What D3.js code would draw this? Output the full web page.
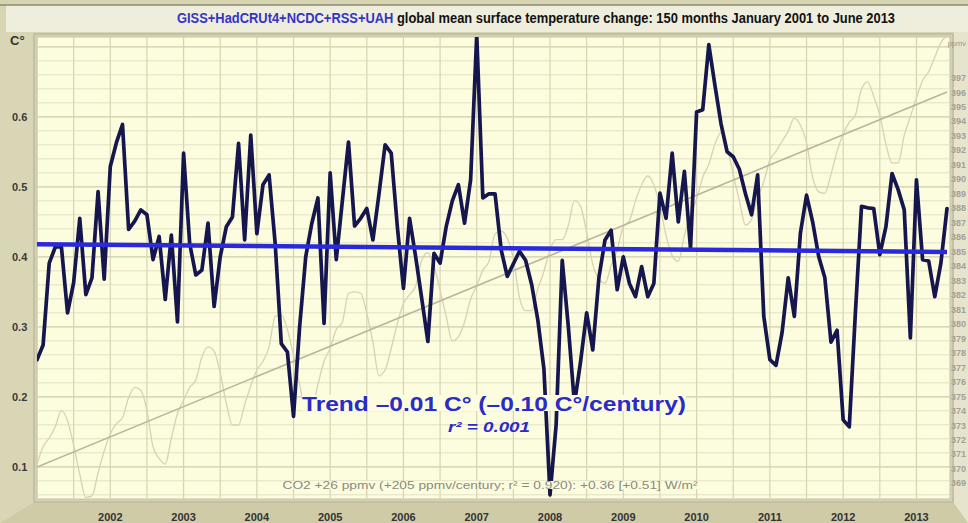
<!DOCTYPE html>
<html><head><meta charset="utf-8">
<script src="https://cdn.jsdelivr.net/npm/d3@7"></script>
<style>body{margin:0;background:#d6d3b1;overflow:hidden} svg{display:block}</style>
</head><body><svg id="c" width="968" height="523"></svg>
<script>
// ---------- data ----------
const years = [2002,2003,2004,2005,2006,2007,2008,2009,2010,2011,2012,2013];
const yTickLabels = [0.1,0.2,0.3,0.4,0.5,0.6];
const ppmTickLabels = [369,370,371,372,373,374,375,376,377,378,379,380,381,382,383,384,385,386,387,388,389,390,391,392,393,394,395,396,397];
// monthly mean of GISS+HadCRUt4+NCDC+RSS+UAH, Jan 2001 .. Jun 2013 (C°)
const tempAnomaly = [
 0.253,0.274,0.391,0.414,0.414,0.320,0.363,0.455,0.346,0.370,0.493,0.368,
 0.529,0.563,0.589,0.439,0.451,0.467,0.460,0.396,0.429,0.339,0.431,0.307,
 0.548,0.419,0.374,0.381,0.448,0.329,0.400,0.443,0.457,0.562,0.424,0.574,
 0.433,0.503,0.517,0.419,0.276,0.264,0.172,0.300,0.400,0.448,0.484,0.305,
 0.520,0.396,0.480,0.564,0.444,0.455,0.469,0.424,0.490,0.560,0.548,0.443,
 0.355,0.455,0.400,0.340,0.279,0.405,0.391,0.443,0.480,0.503,0.448,0.510,
 0.717,0.484,0.490,0.490,0.410,0.372,0.390,0.408,0.395,0.360,0.310,0.240,
 0.060,0.160,0.395,0.300,0.190,0.250,0.320,0.267,0.370,0.424,0.438,0.353,
 0.400,0.362,0.343,0.386,0.343,0.362,0.491,0.455,0.548,0.450,0.522,0.412,
 0.607,0.610,0.703,0.645,0.590,0.550,0.543,0.525,0.490,0.460,0.517,0.315,
 0.253,0.245,0.292,0.370,0.315,0.434,0.488,0.450,0.400,0.370,0.278,0.295,
 0.167,0.157,0.320,0.472,0.470,0.469,0.403,0.443,0.519,0.496,0.467,0.284,
 0.510,0.396,0.394,0.343,0.391,0.469];
// monthly CO2 (ppmv), Jan 2001 .. Jun 2013
const co2Monthly = [
 370.3,371.5,372.1,372.9,374.0,373.3,371.6,369.6,368.0,368.1,369.7,371.2,
 372.4,373.1,373.5,374.9,375.6,375.4,374.0,371.5,370.7,370.3,372.1,373.8,
 374.7,375.6,376.1,377.7,378.4,378.1,376.6,374.5,373.0,373.0,374.4,375.7,
 376.8,377.4,378.4,380.5,380.6,379.6,377.8,375.8,374.1,374.2,375.8,377.4,
 378.3,379.6,380.1,382.1,382.2,382.1,380.7,378.7,376.4,376.8,378.3,380.0,
 381.4,382.0,382.6,384.4,384.9,384.0,382.3,380.5,378.8,379.1,380.1,381.7,
 382.6,383.7,384.3,386.2,386.4,385.9,384.5,381.8,380.9,380.9,382.4,383.6,
 385.1,385.8,385.8,386.8,388.5,388.1,386.3,384.1,383.1,382.8,384.0,385.1,
 386.7,387.1,388.5,389.6,390.2,389.6,388.1,386.1,384.7,384.3,386.1,387.5,
 388.6,390.1,391.0,392.4,393.2,392.2,390.3,388.5,386.8,387.2,388.7,389.8,
 391.3,391.9,392.6,393.3,394.2,393.7,392.5,390.1,389.1,389.0,390.3,391.9,
 393.1,393.9,394.4,396.2,396.7,395.7,394.4,392.4,391.1,391.1,393.0,394.3,
 395.6,396.8,397.4,398.4,399.4,399.9];
const tempTrend = [0.418, 0.407];   // start, end (C°)
const co2Trend  = [370.1, 396.0];   // start, end (ppmv)

// ---------- layout ----------
const svg = d3.select('#c');
const L = 37, R = 950, T = 37, B = 499;
const FONT = 'Liberation Sans, Arial, sans-serif';
const x = d3.scaleLinear().domain([0, 149]).range([37, 947]);
const y = d3.scaleLinear().domain([0.054, 0.714]).range([B, T]);
const yc = d3.scaleLinear().domain([co2Trend[0], co2Trend[1]]).range([467, 92]);
const monthOfYear = yr => (yr - 2001) * 12;

// page background pieces
svg.append('rect').attr('x',0).attr('y',0).attr('width',968).attr('height',523).attr('fill','#d6d3b1');
svg.append('path').attr('d',`M0,6 L${L-4},${T-4} L${L-4},${B+4} L0,523 Z`).attr('fill','#d9d6b6');
svg.append('path').attr('d',`M0,523 L${L-4},${B+4} L${R+4},${B+4} L968,523 Z`).attr('fill','#cfcba7');
svg.append('path').attr('d',`M968,6 L${R+4},${T-4} L${R+4},${B+4} L968,523 Z`).attr('fill','#e6e4cc');
svg.append('rect').attr('x',6).attr('y',5).attr('width',962).attr('height',27).attr('fill','#efeedc');
svg.append('line').attr('x1',0).attr('x2',968).attr('y1',5).attr('y2',5).attr('stroke','#8d8a78').attr('stroke-width',1.5);

// plot area
svg.append('rect').attr('x',L-3).attr('y',T-3).attr('width',R-L+6).attr('height',B-T+6)
  .attr('fill','none').attr('stroke','#bdbba5').attr('stroke-width',1.5);
svg.append('rect').attr('x',L).attr('y',T).attr('width',R-L).attr('height',B-T)
  .attr('fill','#fcfcde').attr('stroke','#c6c4ac').attr('stroke-width',1);

svg.append('clipPath').attr('id','plot').append('rect').attr('x',L).attr('y',T).attr('width',R-L).attr('height',B-T);
const g = svg.append('g').attr('clip-path','url(#plot)');

// grid
const isMajor = d => Math.abs(d*10 - Math.round(d*10)) < 1e-6;
const hGrid = d3.range(0.06, 0.715, 0.02);
g.selectAll('line.h').data(hGrid).join('line')
  .attr('x1',L).attr('x2',R).attr('y1',d=>y(d)).attr('y2',d=>y(d))
  .attr('stroke', d => isMajor(d) ? '#cfcca8' : '#e4e2c4')
  .attr('stroke-width', d => isMajor(d) ? 1.3 : 1);
const vGrid = d3.range(0, 150, 6);
g.selectAll('line.v').data(vGrid).join('line')
  .attr('y1',T).attr('y2',B).attr('x1',d=>x(d)).attr('x2',d=>x(d))
  .attr('stroke','#d6d4b2').attr('stroke-width',1.2);

// CO2 curves
g.append('path').datum(co2Monthly)
  .attr('d', d3.line().curve(d3.curveMonotoneX).x((d,i)=>x(i)).y(d=>yc(d)))
  .attr('fill','none').attr('stroke','#d6d3b2').attr('stroke-width',1.3);
g.append('line').attr('x1',x(0)).attr('x2',x(149)).attr('y1',yc(co2Trend[0])).attr('y2',yc(co2Trend[1]))
  .attr('stroke','#b9b59c').attr('stroke-width',1.6);

// temperature
g.append('path').datum(tempAnomaly)
  .attr('d', d3.line().x((d,i)=>x(i)).y(d=>y(d)))
  .attr('fill','none').attr('stroke','#16164e').attr('stroke-width',3.7)
  .attr('stroke-linejoin','round').attr('stroke-linecap','round');
g.append('line').attr('x1',x(0)).attr('x2',x(149)).attr('y1',y(tempTrend[0])).attr('y2',y(tempTrend[1]))
  .attr('stroke','#2a2adc').attr('stroke-width',4.5);

// labels inside plot (with background boxes)
function boxedText(txt, cx, by, size, opts) {
  const t = svg.append('text').attr('x',cx).attr('y',by).attr('text-anchor','middle')
    .attr('font-family',FONT).attr('font-size',size)
    .attr('fill',opts.fill).attr('font-weight',opts.weight||'normal').attr('font-style',opts.style||'normal')
    .text(txt);
  if (opts.len) t.attr('textLength',opts.len).attr('lengthAdjust','spacingAndGlyphs');
  if (opts.bg) {
    const bb = t.node().getBBox();
    svg.insert('rect', () => t.node()).attr('x',bb.x).attr('y',bb.y+opts.bgPadTop).attr('width',bb.width)
      .attr('height',bb.height-opts.bgPadTop-opts.bgPadBot).attr('fill','#fcfcde');
  }
  return t;
}
boxedText('Trend \u20130.01 C\u00b0 (\u20130.10 C\u00b0/century)', 494, 411, 21,
  {fill:'#2b2bc8', weight:'bold', len:384, bg:true, bgPadTop:3, bgPadBot:4});
boxedText('r\u00b2 = 0.001', 489, 432, 14, {fill:'#2b2bc8', weight:'bold', style:'italic', len:82});
boxedText('CO2 +26 ppmv (+205 ppmv/century; r\u00b2 = 0.920): +0.36 [+0.51] W/m\u00b2', 490, 489, 11.5,
  {fill:'#8c8a80', len:415, bg:true, bgPadTop:2, bgPadBot:2});

// title
const title = svg.append('text').attr('x',536).attr('y',23).attr('text-anchor','middle')
  .attr('font-family',FONT).attr('font-size',14).attr('font-weight','bold')
  .attr('textLength',718).attr('lengthAdjust','spacingAndGlyphs');
title.append('tspan').attr('fill','#3535c4').text('GISS+HadCRUt4+NCDC+RSS+UAH');
title.append('tspan').attr('fill','#111').text(' global mean surface temperature change: 150 months January 2001 to June 2013');

// left axis
svg.append('text').attr('x',10).attr('y',45).attr('font-family',FONT)
  .attr('font-size',13).attr('font-weight','bold').attr('fill','#333').text('C\u00b0');
svg.selectAll('text.yl').data(yTickLabels).join('text')
  .attr('x',12).attr('y',d=>y(d)+4).attr('font-family',FONT)
  .attr('font-size',11).attr('font-weight','bold').attr('fill','#3a3a3a').text(d=>d.toFixed(1));

// bottom axis
svg.selectAll('text.xl').data(years).join('text')
  .attr('x',d=>x(monthOfYear(d))).attr('y',521).attr('text-anchor','middle')
  .attr('font-family',FONT)
  .attr('font-size',11).attr('font-weight','bold').attr('fill','#333').text(d=>d);

// right axis (ppmv)
svg.append('text').attr('x',966).attr('y',46).attr('text-anchor','end').attr('font-family',FONT)
  .attr('font-size',7.5).attr('fill','#9a988a').text('ppmv');
svg.selectAll('text.rl').data(ppmTickLabels).join('text')
  .attr('x',966).attr('y',d=>yc(d)+3.5).attr('text-anchor','end').attr('font-family',FONT)
  .attr('font-size',9).attr('font-weight','bold').attr('fill','#a3a194').text(d=>d);
</script></body></html>
